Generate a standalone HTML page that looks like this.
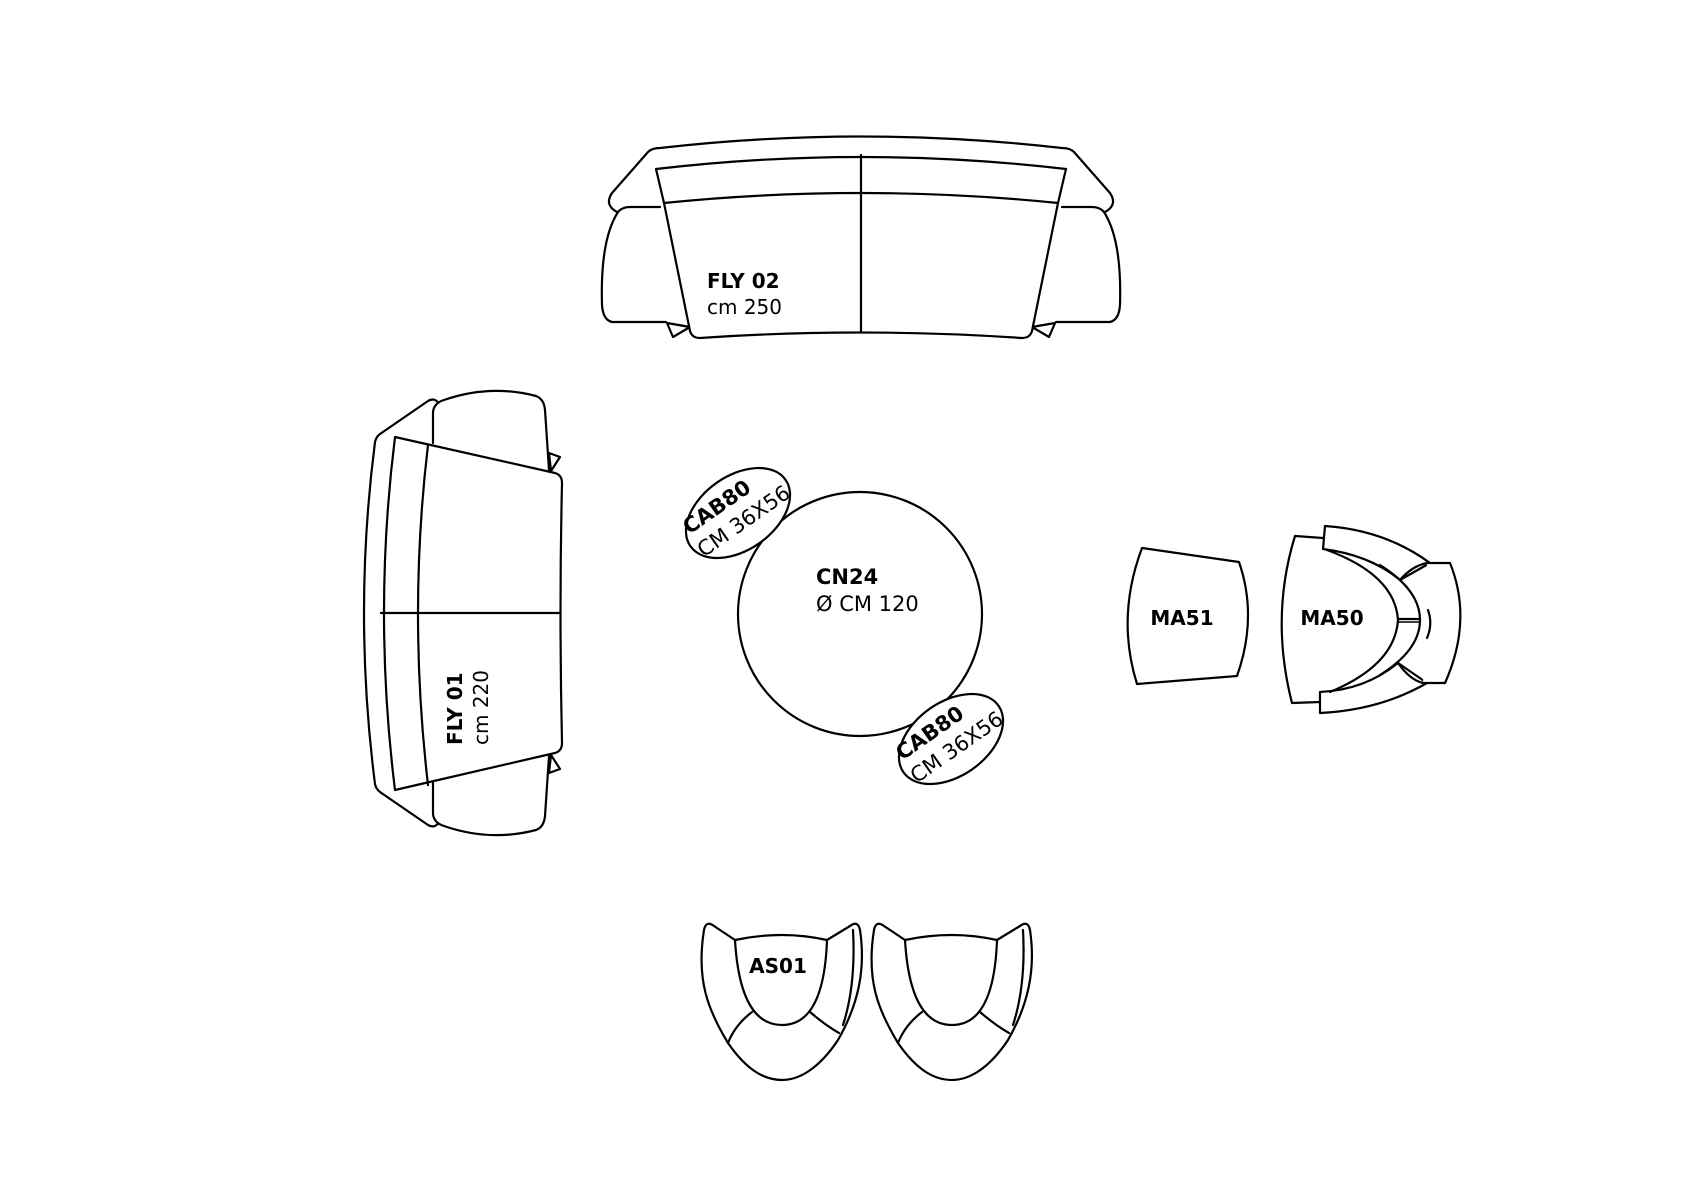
<!DOCTYPE html>
<html><head><meta charset="utf-8"><style>
html,body{margin:0;padding:0;background:#fff;}
svg{display:block;}
text{font-family:"DejaVu Sans","Liberation Sans",sans-serif;fill:#000;}
.b{font-weight:bold;}
</style></head><body>
<svg width="1697" height="1200" viewBox="0 0 1697 1200" xmlns="http://www.w3.org/2000/svg">
<g fill="#fff" stroke="#000" stroke-width="2.2" stroke-linejoin="round" stroke-linecap="round">

<!-- FLY 02 -->
<path d="M617,212 Q604,205 612,193 L648,152 Q652,148 660,148 Q861,125 1062,148 Q1070,148 1074,152 L1110,193 Q1118,205 1105,212"/>
<path d="M666,322 L612,322 Q603,320 602,305 Q600,240 618,212 Q622,207 630,207 L660,207"/>
<path d="M1056,322 L1110,322 Q1119,320 1120,305 Q1122,240 1104,212 Q1100,207 1092,207 L1062,207"/>
<path d="M667,323 L673,337 L690,327 Z"/>
<path d="M1055,323 L1049,337 L1032,327 Z"/>
<path d="M656,169 Q861,145 1066,169 L1058,203 L1032,331 Q1030,338 1022,338 Q861,327 700,338 Q692,338 690,331 L664,203 Z"/>
<path d="M664,203 Q861,183 1058,203" fill="none"/>
<line x1="861" y1="155" x2="861" y2="331"/>

<!-- FLY 01 -->
<path d="M439,404 Q435,397 428,401 L380,434 Q376,437 375,442 Q353,613 375,784 Q376,789 380,792 L428,825 Q435,829 439,822"/>
<path d="M433,443 L433,412 Q434,403 444,400 Q490,384 536,396 Q544,399 545,410 L549,470"/>
<path d="M433,783 L433,814 Q434,823 444,826 Q490,842 536,830 Q544,827 545,816 L549,756"/>
<path d="M549,453 L560,457 L551,471 Z"/>
<path d="M549,773 L560,769 L551,755 Z"/>
<path d="M395,437 L555,473 Q562,475 562,483 Q559,613 562,743 Q562,751 555,753 L395,790 Q373,613 395,437 Z"/>
<path d="M428,445 Q408,613 428,785" fill="none"/>
<line x1="381" y1="613" x2="560" y2="613"/>

<!-- CN24 table -->
<circle cx="860" cy="614" r="122"/>
<ellipse cx="738" cy="513" rx="58" ry="37" transform="rotate(-35 738 513)"/>
<ellipse cx="951" cy="739" rx="58" ry="37" transform="rotate(-35 951 739)"/>

<!-- MA51 -->
<path d="M1142,548 L1239,562 Q1258,617 1237,676 L1137,684 Q1116,617 1142,548 Z"/>

<!-- MA50 -->
<path d="M1323,538 L1295,536 Q1270,617 1292,703 L1320,702"/>
<path d="M1325,526 Q1385,530 1430,563 L1400,580 Q1370,555 1323,549 Z"/>
<path d="M1320,713 Q1380,710 1427,683 L1398,663 Q1365,690 1320,692 Z"/>
<path d="M1327,550 Q1395,575 1398,620 Q1395,665 1330,692" fill="none"/>
<path d="M1380,565 Q1420,590 1420,620 Q1420,650 1380,675" fill="none"/>
<path d="M1400,580 Q1412,566 1427,563 Q1445,590 1440,620 Q1445,652 1423,683 Q1410,680 1398,663" fill="none"/>
<path d="M1427,563 L1450,563 Q1473,620 1445,683 L1423,683"/>
<line x1="1398" y1="619" x2="1420" y2="619"/>
<line x1="1398" y1="622" x2="1420" y2="622" stroke-width="1.5"/>
<path d="M1428,610 Q1433,624 1427,638" fill="none"/>

<!-- AS01 chairs -->
<g id="ch">
<path d="M735,940 L714,926 Q706,920 704,930 C696,980 708,1010 728,1043 C748,1072 766,1080 782,1080 C798,1080 818,1070 838,1040 C858,1005 866,970 860,930 Q858,920 850,926 L827,940 Q782,930 735,940 Z"/>
<path d="M735,940 Q740,1025 782,1025 Q824,1025 827,940" fill="none"/>
<path d="M752,1012 Q735,1025 728,1043" fill="none"/>
<path d="M810,1012 Q825,1025 839,1033" fill="none"/>
<path d="M853,930 Q856,985 843,1025" fill="none"/>
</g>
<g transform="translate(170,0)">
<path d="M735,940 L714,926 Q706,920 704,930 C696,980 708,1010 728,1043 C748,1072 766,1080 782,1080 C798,1080 818,1070 838,1040 C858,1005 866,970 860,930 Q858,920 850,926 L827,940 Q782,930 735,940 Z"/>
<path d="M735,940 Q740,1025 782,1025 Q824,1025 827,940" fill="none"/>
<path d="M752,1012 Q735,1025 728,1043" fill="none"/>
<path d="M810,1012 Q825,1025 839,1033" fill="none"/>
<path d="M853,930 Q856,985 843,1025" fill="none"/>
</g>
</g>

<!-- Labels -->
<text class="b" x="707" y="288" font-size="20">FLY 02</text>
<text x="707" y="314" font-size="20">cm 250</text>

<text class="b" font-size="20" transform="translate(462,745) rotate(-90)">FLY 01</text>
<text font-size="20" transform="translate(488,745) rotate(-90)">cm 220</text>

<text class="b" x="816" y="584" font-size="21">CN24</text>
<text x="816" y="611" font-size="21">Ø CM 120</text>

<g transform="translate(738,513) rotate(-35)">
<text class="b" x="-14" y="-10" font-size="21" text-anchor="middle">CAB80</text>
<text x="0" y="17" font-size="21" text-anchor="middle">CM 36X56</text>
</g>
<g transform="translate(951,739) rotate(-35)">
<text class="b" x="-14" y="-10" font-size="21" text-anchor="middle">CAB80</text>
<text x="0" y="17" font-size="21" text-anchor="middle">CM 36X56</text>
</g>

<text class="b" x="1182" y="625" font-size="20" text-anchor="middle">MA51</text>
<text class="b" x="1332" y="625" font-size="20" text-anchor="middle">MA50</text>
<text class="b" x="778" y="973" font-size="20" text-anchor="middle">AS01</text>
</svg>
</body></html>
